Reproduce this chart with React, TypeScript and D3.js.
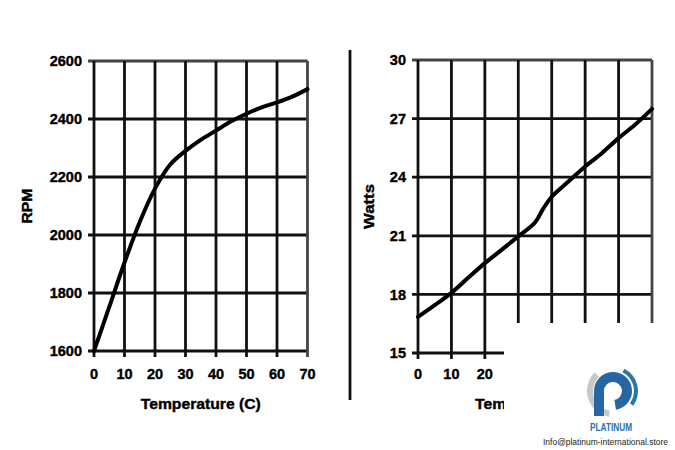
import React from "react";
import * as d3 from "d3";

// ---- Data ----
const xTicks = [0, 10, 20, 30, 40, 50, 60, 70];
const rpmTicks = [1600, 1800, 2000, 2200, 2400, 2600];
const wattTicks = [15, 18, 21, 24, 27, 30];

const rpmTemps = [0, 5, 10, 15, 20, 25, 30, 35, 40, 45, 50, 55, 60, 65, 70];
const rpmValues = [1600, 1752, 1905, 2045, 2160, 2243, 2290, 2328, 2360, 2392, 2418, 2440, 2457, 2477, 2503];

const wattTemps = [0, 5, 10, 15, 20, 25, 30, 35, 37.5, 40, 45, 50, 55, 60, 65, 70];
const wattValues = [16.85, 17.45, 18.08, 18.85, 19.6, 20.28, 20.97, 21.68, 22.4, 23.0, 23.78, 24.55, 25.23, 26.0, 26.7, 27.5];

const xTitle = "Temperature (C)";
const FONT = "'Liberation Sans', Arial, Helvetica, sans-serif";

type PanelProps = {
  x0: number; x1: number; yTop: number; yBot: number;
  yDomain: [number, number]; yTicks: number[];
  xs: number[]; ys: number[]; yTitle: string; yTitleX: number; yTitleLen: number;
};

function Panel(p: PanelProps) {
  const x = d3.scaleLinear().domain([0, 70]).range([p.x0, p.x1]);
  const y = d3.scaleLinear().domain(p.yDomain).range([p.yBot, p.yTop]);
  const line = d3.line<number>()
    .x((_, i) => x(p.xs[i]))
    .y((d) => y(d))
    .curve(d3.curveCatmullRom.alpha(0.5));
  const midY = (p.yTop + p.yBot) / 2;
  const last = p.yTicks[p.yTicks.length - 1];
  return (
    <g fontFamily={FONT} fontWeight="bold" fill="#000">
      {p.yTicks.map((t) => (
        <line key={"h" + t} x1={x(0) - 6} x2={x(70)} y1={y(t)} y2={y(t)}
          stroke={t === last ? "#444" : "#111"} strokeWidth={2.8} />
      ))}
      {xTicks.map((t) => (
        <line key={"v" + t} x1={x(t)} x2={x(t)} y1={p.yTop} y2={p.yBot + 6}
          stroke={t === 70 ? "#444" : "#111"} strokeWidth={2.8} />
      ))}
      <path d={line(p.ys) || ""} fill="none" stroke="#000" strokeWidth={4}
        strokeLinejoin="round" strokeLinecap="round" />
      {p.yTicks.map((t) => (
        <text key={"yl" + t} x={x(0) - 12} y={y(t)} dy="0.36em" textAnchor="end" fontSize={14.5}
          stroke="#000" strokeWidth={0.4}>{t}</text>
      ))}
      {xTicks.map((t) => (
        <text key={"xl" + t} x={x(t)} y={378.5} textAnchor="middle" fontSize={14.5}
          stroke="#000" strokeWidth={0.4}>{t}</text>
      ))}
      <text x={(p.x0 + p.x1) / 2} y={409} textAnchor="middle" fontSize={15}
        stroke="#000" strokeWidth={0.4}
        textLength={120} lengthAdjust="spacingAndGlyphs">{xTitle}</text>
      <text transform={`translate(${p.yTitleX},${midY}) rotate(-90)`} textAnchor="middle" fontSize={15}
        stroke="#000" strokeWidth={0.4}
        textLength={p.yTitleLen} lengthAdjust="spacingAndGlyphs">{p.yTitle}</text>
    </g>
  );
}

function Logo() {
  const cx = 613, cy = 391;
  const ring = d3.arc()({ innerRadius: 9, outerRadius: 19, startAngle: -Math.PI / 2, endAngle: Math.PI * 0.95 } as any) || "";
  const gray = d3.arc()({ innerRadius: 20, outerRadius: 26, startAngle: Math.PI * 1.05, endAngle: Math.PI * 1.75 } as any) || "";
  const blueOuter = d3.arc()({ innerRadius: 21, outerRadius: 25, startAngle: Math.PI * 0.15, endAngle: Math.PI * 0.7 } as any) || "";
  return (
    <g>
      <path d={gray} transform={`translate(${cx},${cy})`} fill="#c8c8c8" />
      <path d={blueOuter} transform={`translate(${cx},${cy})`} fill="#2f72ad" />
      <path d={ring} transform={`translate(${cx},${cy})`} fill="#2766a3" />
      <rect x={cx - 19} y={cy} width={10} height={25} fill="#2766a3" />
      <text x={611} y={431} textAnchor="middle" fontFamily={FONT} fontWeight="bold" fontSize={10}
        fill="#2a6fae" textLength={42} lengthAdjust="spacingAndGlyphs">PLATINUM</text>
      <text x={605.5} y={445} textAnchor="middle" fontFamily={FONT} fontSize={8.5}
        fill="#222" textLength={125} lengthAdjust="spacingAndGlyphs">Info@platinum-international.store</text>
    </g>
  );
}

export default function App() {
  return (
    <svg width={675} height={450} style={{ position: "absolute", left: 0, top: 0, background: "#fff" }}>
      <rect width={675} height={450} fill="#fff" />
      <Panel x0={94} x1={307.5} yTop={61} yBot={351} yDomain={[1600, 2600]} yTicks={rpmTicks}
        xs={rpmTemps} ys={rpmValues} yTitle="RPM" yTitleX={31.5} yTitleLen={35} />
      <line x1={350} x2={350} y1={50} y2={400} stroke="#111" strokeWidth={2.8} />
      <Panel x0={418} x1={652} yTop={60} yBot={353} yDomain={[15, 30]} yTicks={wattTicks}
        xs={wattTemps} ys={wattValues} yTitle="Watts" yTitleX={373.5} yTitleLen={45} />
      <rect x={504} y={323} width={171} height={127} fill="#fff" />
      <Logo />
    </svg>
  );
}
